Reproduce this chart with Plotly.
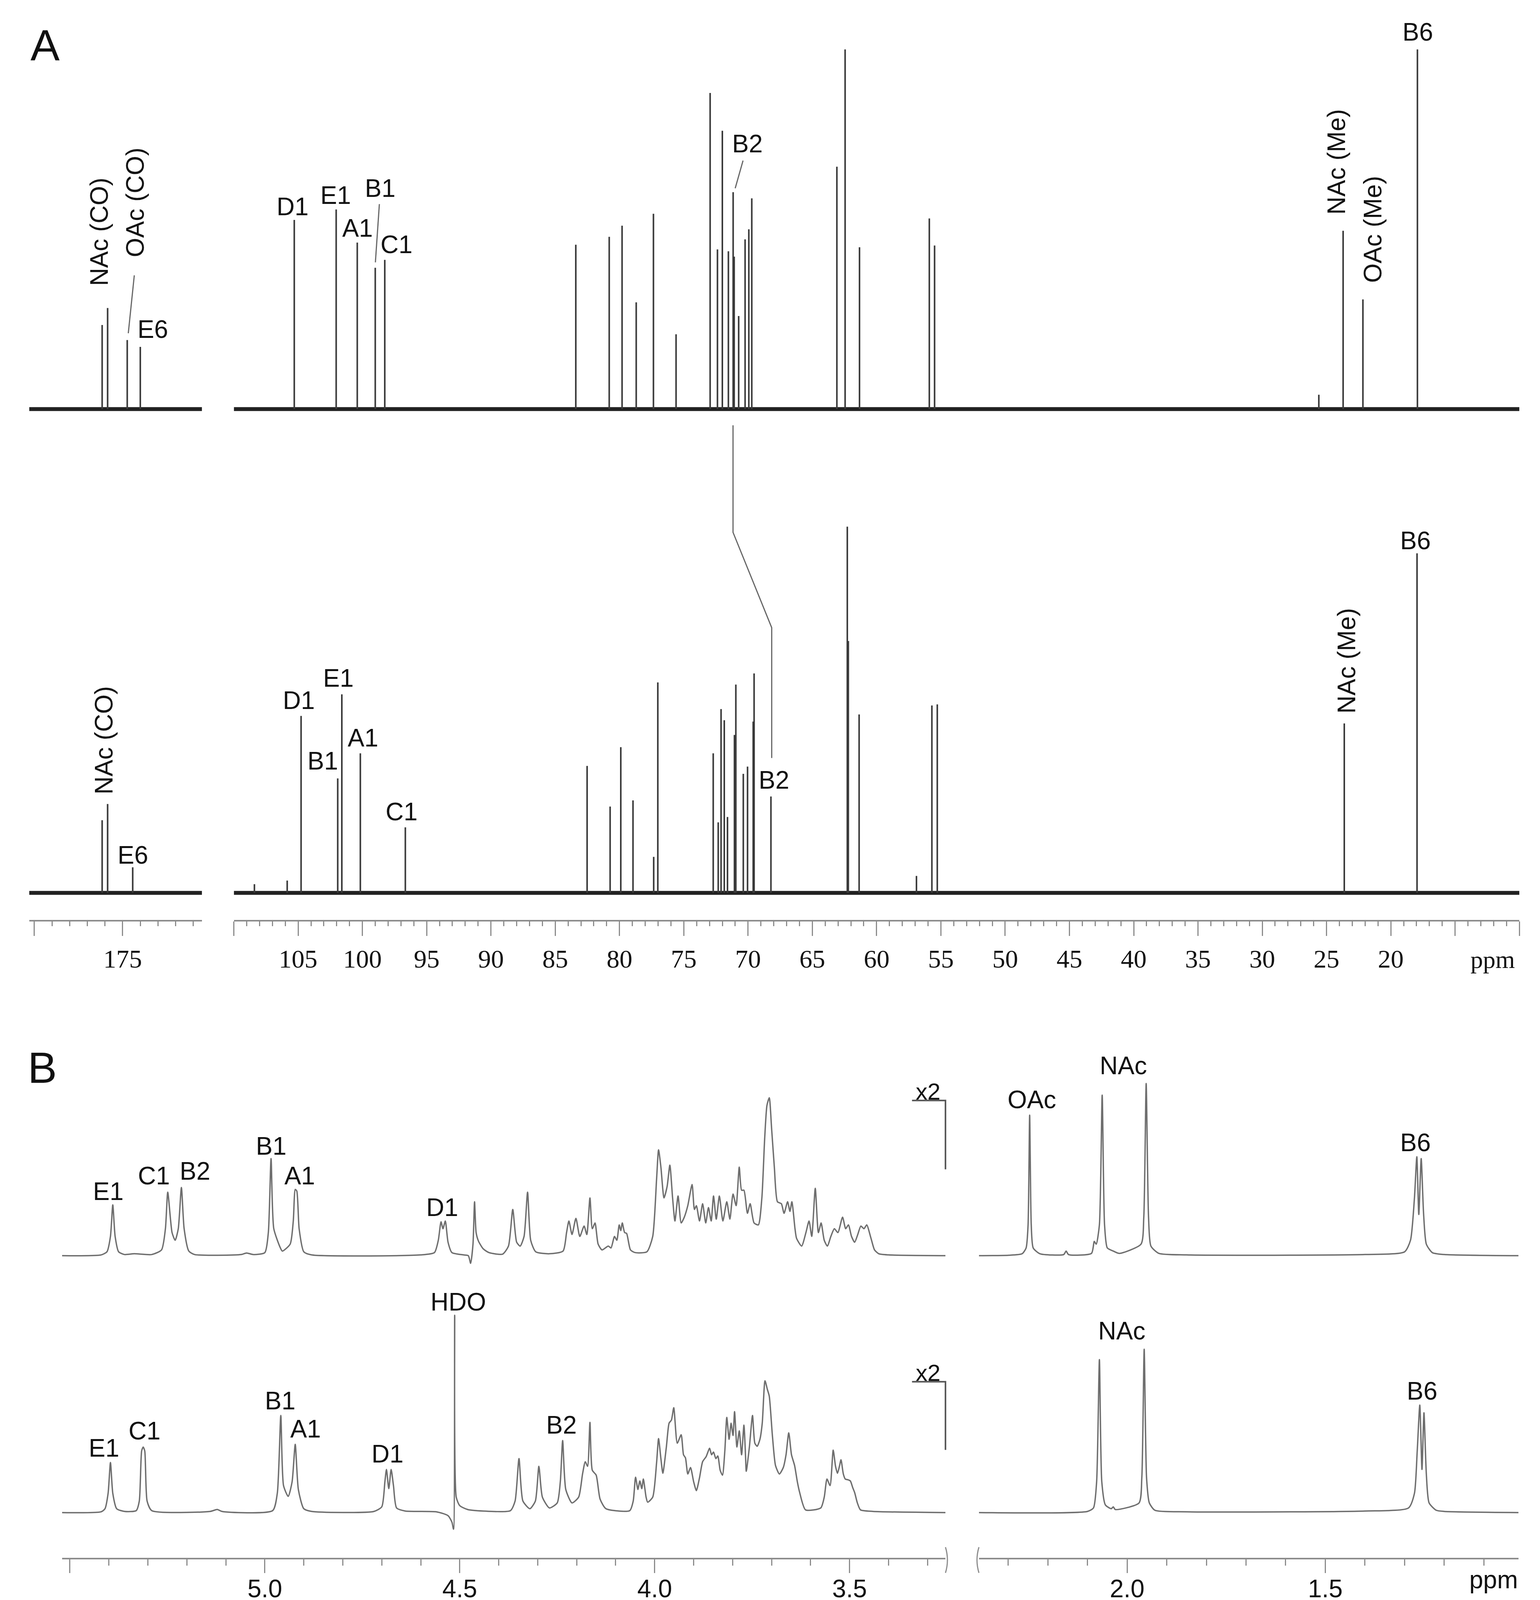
import plotly.graph_objects as go

# reference picture size (all positions below are read in these pixels)
W, H = 3942, 4152
# figure drawn a little smaller so that the page never needs scrollbars
FIG_W, FIG_H = 3926, 4136

# ---- 13C spectra: peak positions (ppm) and relative heights ----
C13_TOP_PPM = [176.16, 175.85, 174.74, 174.00,
               105.30, 102.04, 100.40, 99.00, 98.26,
               83.40, 80.80, 79.80, 78.70, 77.36, 75.60,
               72.95, 72.38, 72.00, 71.53, 71.16, 71.08, 70.73, 70.23, 69.94, 69.71,
               63.09, 62.45, 61.33, 55.90, 55.49,
               25.60, 23.71, 22.17, 17.93]
C13_TOP_INT = [23.4, 28.1, 19.2, 17.3,
               52.6, 55.5, 46.3, 39.3, 41.5,
               45.7, 47.9, 51.0, 29.7, 54.3, 20.8,
               87.9, 44.4, 77.4, 43.9, 60.3, 42.4, 25.9, 47.2, 50.0, 58.6,
               67.4, 100.0, 45.0, 53.0, 45.5,
               4.0, 49.6, 30.5, 100.0]

C13_BOT_PPM = [176.16, 175.85, 174.43,
               108.40, 105.85, 104.77, 101.92, 101.60, 100.16, 96.66,
               82.52, 80.73, 79.90, 78.95, 77.34, 77.02,
               72.71, 72.32, 72.10, 71.85, 71.60, 71.06, 70.95, 70.37, 70.04, 69.60, 69.53, 68.22,
               62.28, 62.20, 61.36, 56.90, 55.70, 55.28,
               23.62, 17.96]
C13_BOT_INT = [20.2, 24.7, 7.1,
               2.4, 3.4, 49.2, 31.8, 55.2, 38.8, 18.2,
               35.3, 24.0, 40.5, 25.7, 10.0, 58.5,
               38.8, 19.6, 51.1, 48.0, 21.1, 43.9, 57.9, 33.1, 35.1, 47.6, 61.0, 26.8,
               101.8, 70.0, 49.6, 4.7, 52.1, 52.4,
               47.1, 94.4]

# ---- 1H spectra: trace vertices (ppm, intensity) ----
H1_TOP = [
    (5.52, 0), (5.42, 2), (5.405, 10), (5.396, 50), (5.390, 132), (5.384, 50), (5.375, 10),
    (5.36, 3), (5.335, 5), (5.29, 3), (5.265, 15), (5.255, 70), (5.249, 165), (5.238, 60),
    (5.230, 40), (5.222, 70), (5.214, 177), (5.207, 70), (5.195, 12), (5.18, 3), (5.06, 3),
    (5.047, 7), (5.03, 3), (5.00, 8), (4.991, 60), (4.984, 252), (4.977, 70), (4.960, 20),
    (4.955, 12), (4.935, 30), (4.927, 90), (4.922, 172), (4.918, 168), (4.912, 70), (4.900, 10),
    (4.88, 2), (4.60, 2), (4.565, 8), (4.555, 40), (4.548, 88), (4.543, 70), (4.537, 90),
    (4.530, 35), (4.52, 8), (4.49, 2), (4.478, 0), (4.472, -20), (4.466, 30), (4.462, 140),
    (4.458, 60), (4.452, 38), (4.44, 18), (4.425, 8), (4.39, 4), (4.375, 25), (4.364, 120),
    (4.354, 35), (4.345, 25), (4.335, 50), (4.326, 165), (4.318, 40), (4.305, 10), (4.27, 5),
    (4.235, 12), (4.226, 60), (4.220, 90), (4.212, 55), (4.202, 97), (4.192, 50), (4.181, 77),
    (4.174, 55), (4.166, 150), (4.160, 70), (4.153, 85), (4.145, 30), (4.135, 15), (4.119, 25),
    (4.112, 20), (4.103, 50), (4.097, 40), (4.091, 80), (4.087, 65), (4.083, 85), (4.077, 60),
    (4.072, 58), (4.062, 15), (4.05, 8), (4.02, 10), (4.005, 50), (3.995, 200), (3.990, 275),
    (3.984, 230), (3.976, 150), (3.968, 180), (3.961, 235), (3.954, 150), (3.948, 90),
    (3.940, 155), (3.932, 85), (3.924, 100), (3.915, 130), (3.904, 185), (3.898, 120),
    (3.893, 130), (3.885, 90), (3.877, 135), (3.869, 85), (3.862, 125), (3.855, 90),
    (3.849, 155), (3.842, 95), (3.834, 155), (3.825, 90), (3.815, 140), (3.807, 95),
    (3.799, 160), (3.791, 130), (3.783, 230), (3.777, 170), (3.771, 170), (3.762, 110),
    (3.755, 135), (3.745, 85), (3.734, 80), (3.725, 150), (3.718, 300), (3.712, 390),
    (3.706, 410), (3.700, 330), (3.693, 230), (3.685, 140), (3.675, 135), (3.668, 110),
    (3.659, 140), (3.653, 115), (3.648, 140), (3.640, 70), (3.636, 45), (3.623, 25),
    (3.612, 60), (3.604, 90), (3.597, 50), (3.588, 175), (3.580, 60), (3.573, 85),
    (3.565, 40), (3.557, 25), (3.548, 50), (3.539, 70), (3.530, 60), (3.518, 100),
    (3.510, 70), (3.503, 80), (3.495, 50), (3.487, 35), (3.479, 55), (3.471, 77),
    (3.463, 70), (3.456, 80), (3.445, 45), (3.436, 15), (3.425, 5), (3.40, 2), (3.254, 0),
    (2.374, 0), (2.30, 1), (2.265, 5), (2.255, 20), (2.250, 80), (2.246, 365), (2.242, 80),
    (2.237, 20), (2.22, 5), (2.16, 3), (2.154, 12), (2.148, 3), (2.09, 6), (2.083, 37),
    (2.078, 30), (2.070, 80), (2.063, 417), (2.057, 80), (2.050, 20), (2.035, 12), (2.02, 6),
    (1.965, 30), (1.958, 100), (1.952, 447), (1.946, 100), (1.940, 25), (1.92, 6), (1.85, 2),
    (1.40, 3), (1.30, 10), (1.285, 40), (1.275, 150), (1.269, 257), (1.264, 107),
    (1.258, 252), (1.252, 110), (1.245, 30), (1.23, 8), (1.20, 3), (1.0125, 0),
]

H1_BOT = [
    (5.52, 0), (5.42, 2), (5.41, 10), (5.402, 50), (5.396, 130), (5.390, 50), (5.38, 10),
    (5.36, 3), (5.33, 5), (5.322, 30), (5.316, 160), (5.312, 170), (5.308, 160), (5.302, 30),
    (5.29, 5), (5.14, 3), (5.122, 8), (5.11, 3), (4.98, 5), (4.968, 50), (4.959, 252),
    (4.952, 70), (4.940, 42), (4.930, 80), (4.922, 177), (4.914, 60), (4.90, 10), (4.88, 3),
    (4.72, 3), (4.70, 15), (4.692, 80), (4.688, 112), (4.682, 62), (4.676, 112), (4.670, 70),
    (4.662, 12), (4.64, 4), (4.56, 2), (4.53, -8), (4.520, -25), (4.516, -43), (4.513, 512),
    (4.509, 40), (4.50, 18), (4.48, 8), (4.44, 4), (4.37, 5), (4.358, 30), (4.348, 140),
    (4.338, 30), (4.32, 10), (4.306, 30), (4.297, 120), (4.288, 40), (4.27, 12), (4.25, 25),
    (4.242, 80), (4.236, 187), (4.228, 60), (4.212, 25), (4.195, 40), (4.185, 100),
    (4.178, 132), (4.172, 120), (4.166, 234), (4.160, 110), (4.150, 97), (4.140, 35),
    (4.125, 10), (4.064, 5), (4.055, 30), (4.049, 92), (4.043, 60), (4.038, 82), (4.033, 62),
    (4.029, 87), (4.022, 40), (4.018, 27), (4.005, 40), (3.995, 130), (3.990, 192),
    (3.984, 140), (3.979, 102), (3.970, 170), (3.963, 232), (3.957, 240), (3.951, 272),
    (3.942, 180), (3.932, 202), (3.926, 150), (3.921, 142), (3.915, 100), (3.908, 117),
    (3.900, 80), (3.893, 57), (3.885, 90), (3.877, 132), (3.868, 145), (3.859, 167),
    (3.854, 150), (3.849, 157), (3.843, 140), (3.838, 147), (3.832, 110), (3.826, 97),
    (3.820, 160), (3.815, 247), (3.809, 190), (3.804, 232), (3.799, 200), (3.795, 262),
    (3.789, 170), (3.783, 212), (3.777, 150), (3.771, 227), (3.767, 150), (3.765, 107),
    (3.757, 170), (3.749, 252), (3.743, 180), (3.737, 172), (3.730, 190), (3.724, 232),
    (3.717, 342), (3.711, 320), (3.706, 302), (3.698, 200), (3.690, 122), (3.680, 100),
    (3.670, 117), (3.663, 150), (3.656, 207), (3.649, 150), (3.641, 122), (3.634, 80),
    (3.628, 52), (3.613, 7), (3.574, 12), (3.565, 40), (3.558, 87), (3.550, 70),
    (3.542, 162), (3.536, 120), (3.531, 102), (3.526, 120), (3.522, 137), (3.516, 100),
    (3.511, 87), (3.504, 85), (3.498, 82), (3.492, 65), (3.487, 52), (3.480, 25),
    (3.472, 7), (3.44, 3), (3.254, 0),
    (2.374, 0), (2.10, 3), (2.085, 12), (2.077, 80), (2.070, 397), (2.064, 80), (2.055, 20),
    (2.04, 10), (2.035, 15), (2.03, 8), (1.97, 25), (1.963, 90), (1.957, 424), (1.951, 90),
    (1.944, 25), (1.93, 6), (1.85, 2), (1.40, 4), (1.29, 12), (1.275, 50), (1.268, 160),
    (1.2615, 279), (1.256, 112), (1.251, 259), (1.245, 100), (1.238, 25), (1.22, 6),
    (1.20, 3), (1.0125, 0),
]

# ---- labels (text, ppm, intensity, angle) ----
A_TOP_LEFT_LABELS = [("NAc (CO)", 176.31, 49.3, -90), ("OAc (CO)", 174.30, 57.5, -90),
                     ("E6", 173.29, 22.2, 0)]
A_TOP_MAIN_LABELS = [("D1", 105.43, 56.3, 0), ("E1", 102.09, 59.4, 0), ("B1", 98.62, 61.4, 0),
                     ("A1", 100.38, 50.3, 0), ("C1", 97.35, 45.8, 0), ("B2", 70.05, 73.8, 0),
                     ("NAc (Me)", 24.24, 68.7, -90), ("OAc (Me)", 21.40, 50.0, -90),
                     ("B6", 17.90, 104.8, 0)]
A_BOT_LEFT_LABELS = [("NAc (CO)", 176.05, 42.4, -90), ("E6", 174.43, 10.5, 0)]
A_BOT_MAIN_LABELS = [("D1", 104.93, 53.5, 0), ("E1", 101.86, 59.7, 0), ("B1", 103.10, 36.7, 0),
                     ("A1", 99.95, 43.1, 0), ("C1", 96.94, 22.5, 0), ("B2", 67.98, 31.4, 0),
                     ("NAc (Me)", 23.44, 64.5, -90), ("B6", 18.10, 97.9, 0)]
B_TOP_LABELS = [("E1", 5.402, 167), ("C1", 5.284, 207), ("B2", 5.179, 220), ("B1", 4.984, 285),
                ("A1", 4.911, 207), ("D1", 4.545, 125),
                ("OAc", 2.241, 405), ("NAc", 2.0096, 494), ("B6", 1.273, 294)]
B_BOT_LABELS = [("E1", 5.413, 167), ("C1", 5.309, 212), ("B1", 4.961, 290), ("A1", 4.896, 217),
                ("D1", 4.685, 152), ("HDO", 4.504, 547), ("B2", 4.239, 227),
                ("NAc", 2.0134, 472), ("B6", 1.256, 315)]

# axis ranges of the segments
A_LEFT = [180.29, 170.51]
A_MAIN = [110.0, 10.0]
B_LEFT = [5.52, 3.254]
B_RIGHT = [2.374, 1.0125]

A_MAIN_TICKS = list(range(110, 5, -5))
A_MAIN_TEXT = ["" if t in (110, 15, 10) else str(t) for t in A_MAIN_TICKS]


def px(x):
    return x / W


def py(y):
    return 1 - y / H


def sticks(ppm, inten, rng):
    lo, hi = min(rng), max(rng)
    xs, ys = [], []
    for p, v in zip(ppm, inten):
        if lo <= p <= hi:
            xs += [p, p, None]
            ys += [0, v, None]
    return xs, ys


def trace_part(pts, rng):
    lo, hi = min(rng), max(rng)
    sel = [(p, v) for p, v in pts if lo <= p <= hi]
    return [p for p, _ in sel], [v for _, v in sel]


fig = go.Figure()

STICK = dict(color="#3a3a3a", width=4)
NOISE = dict(color="#222222", width=10)
HLINE = dict(color="#6e6e6e", width=3.5, shape="spline", smoothing=0.6)

# panel A, 13C
for ppm, inten, ax_left, ax_main, ya in [
        (C13_TOP_PPM, C13_TOP_INT, "x", "x2", "y"),
        (C13_BOT_PPM, C13_BOT_INT, "x3", "x4", "y2")]:
    for rng, xa in [(A_LEFT, ax_left), (A_MAIN, ax_main)]:
        fig.add_trace(go.Scatter(x=rng, y=[0, 0], mode="lines", line=NOISE,
                                 xaxis=xa, yaxis=ya, hoverinfo="skip"))
        xs, ys = sticks(ppm, inten, rng)
        fig.add_trace(go.Scatter(x=xs, y=ys, mode="lines", line=STICK,
                                 xaxis=xa, yaxis=ya, hoverinfo="skip"))

# panel B, 1H
for pts, ax_left, ax_right, ya in [(H1_TOP, "x5", "x6", "y3"), (H1_BOT, "x7", "x8", "y4")]:
    for rng, xa in [(B_LEFT, ax_left), (B_RIGHT, ax_right)]:
        xs, ys = trace_part(pts, rng)
        fig.add_trace(go.Scatter(x=xs, y=ys, mode="lines", line=HLINE,
                                 xaxis=xa, yaxis=ya, hoverinfo="skip"))

LBL = dict(family="Liberation Sans, Arial, sans-serif", size=64, color="#111111")


def add_labels(labels, xref, yref):
    for item in labels:
        text, x, y = item[0], item[1], item[2]
        ang = item[3] if len(item) > 3 else 0
        fig.add_annotation(text=text, x=x, y=y, xref=xref, yref=yref, showarrow=False,
                           textangle=ang, font=LBL, xanchor="center", yanchor="middle")


add_labels(A_TOP_LEFT_LABELS, "x", "y")
add_labels(A_TOP_MAIN_LABELS, "x2", "y")
add_labels(A_BOT_LEFT_LABELS, "x3", "y2")
add_labels(A_BOT_MAIN_LABELS, "x4", "y2")
add_labels([l for l in B_TOP_LABELS if l[1] > 3], "x5", "y3")
add_labels([l for l in B_TOP_LABELS if l[1] < 3], "x6", "y3")
add_labels([l for l in B_BOT_LABELS if l[1] > 3], "x7", "y4")
add_labels([l for l in B_BOT_LABELS if l[1] < 3], "x8", "y4")

PTR = dict(color="#666666", width=3)
fig.add_shape(type="line", xref="x", yref="y", x0=174.34, y0=37.2, x1=174.68, y1=21.1, line=PTR)
fig.add_shape(type="line", xref="x2", yref="y", x0=98.68, y0=57.0, x1=98.99, y1=40.8, line=PTR)
fig.add_shape(type="line", xref="x2", yref="y", x0=70.39, y0=69.1, x1=71.0, y1=61.4, line=PTR)
# B2 correlation between the two 13C spectra
fig.add_shape(type="path", xref="x2", yref="paper", line=PTR,
              path=f"M 71.17 {py(1085)} L 71.17 {py(1360)} L 68.16 {py(1605)} L 68.16 {py(1940)}")

# x2 brackets
for ty, ly, ey in [(2797, 2820, 2997), (3520, 3543, 3718)]:
    fig.add_shape(type="path", xref="paper", yref="paper", line=dict(color="#555555", width=4),
                  path=f"M {px(2336)} {py(ly)} L {px(2422)} {py(ly)} L {px(2422)} {py(ey)}")
    fig.add_annotation(text="x2", x=px(2377), y=py(ty), xref="paper", yref="paper",
                       showarrow=False, font=dict(LBL, size=60), xanchor="center",
                       yanchor="middle")

# axis break marks on the 1H scale
for x0, bend in [(2422, 10), (2508, -10)]:
    fig.add_shape(type="path", xref="paper", yref="paper", line=dict(color="#8c8c8c", width=3),
                  path=f"M {px(x0)} {py(3968)} Q {px(x0 + bend)} {py(4001)} {px(x0)} {py(4034)}")

# panel letters and ppm
for t, x, y in [("A", 108, 108), ("B", 101, 2736)]:
    fig.add_annotation(text=t, x=px(x), y=py(y), xref="paper", yref="paper", showarrow=False,
                       font=dict(family="Liberation Sans, Arial", size=112, color="#111"),
                       xanchor="center", yanchor="middle")
fig.add_annotation(text="ppm", x=12.07, y=py(2458), xref="x4", yref="paper", showarrow=False,
                   font=dict(family="Liberation Serif, Times New Roman", size=64, color="#111"),
                   xanchor="center", yanchor="middle")
fig.add_annotation(text="ppm", x=1.075, y=py(4052), xref="x8", yref="paper", showarrow=False,
                   font=dict(family="Liberation Sans, Arial", size=64, color="#111"),
                   xanchor="center", yanchor="middle")

AX = dict(showgrid=False, zeroline=False, autorange=False)
HIDDEN = dict(AX, visible=False)
SERIF = dict(family="Liberation Serif, Times New Roman, serif", size=66, color="#111")
SANS = dict(family="Liberation Sans, Arial, sans-serif", size=64, color="#111")
AXLINE = dict(showline=True, linecolor="#8c8c8c", linewidth=4, ticks="outside",
              tickcolor="#8c8c8c", tickwidth=3)

dA_left = [px(67), px(511)]
dA_main = [px(593), px(3897)]
dB_left = [px(151.6), px(2422)]
dB_right = [px(2508), px(3894.7)]

fig.update_layout(
    width=FIG_W, height=FIG_H, margin=dict(l=0, r=0, t=0, b=0),
    paper_bgcolor="white", plot_bgcolor="rgba(0,0,0,0)", showlegend=False,
    xaxis=dict(HIDDEN, domain=dA_left, range=A_LEFT, anchor="y"),
    xaxis2=dict(HIDDEN, domain=dA_main, range=A_MAIN, anchor="y"),
    xaxis3=dict(AX, **AXLINE, domain=dA_left, range=A_LEFT, anchor="y2",
                tickmode="array", tickvals=[180, 175], ticktext=["", "175"], ticklen=37,
                tickfont=SERIF, ticklabelstandoff=2,
                minor=dict(tickmode="linear", tick0=0, dtick=1, ticklen=12, ticks="outside",
                           tickcolor="#8c8c8c", tickwidth=3)),
    xaxis4=dict(AX, **AXLINE, domain=dA_main, range=A_MAIN, anchor="y2",
                tickmode="array", tickvals=A_MAIN_TICKS, ticktext=A_MAIN_TEXT, ticklen=37,
                tickfont=SERIF, ticklabelstandoff=2,
                minor=dict(tickmode="linear", tick0=0, dtick=1, ticklen=12, ticks="outside",
                           tickcolor="#8c8c8c", tickwidth=3)),
    xaxis5=dict(HIDDEN, domain=dB_left, range=B_LEFT, anchor="y3"),
    xaxis6=dict(HIDDEN, domain=dB_right, range=B_RIGHT, anchor="y3"),
    xaxis7=dict(AX, **AXLINE, domain=dB_left, range=B_LEFT, anchor="y4",
                tickmode="array", tickvals=[5.5, 5.0, 4.5, 4.0, 3.5],
                ticktext=["", "5.0", "4.5", "4.0", "3.5"], ticklen=35,
                tickfont=SANS, ticklabelstandoff=-14,
                minor=dict(tickmode="linear", tick0=0, dtick=0.1, ticklen=16, ticks="outside",
                           tickcolor="#8c8c8c", tickwidth=3)),
    xaxis8=dict(AX, **AXLINE, domain=dB_right, range=B_RIGHT, anchor="y4",
                tickmode="array", tickvals=[2.0, 1.5], ticktext=["2.0", "1.5"], ticklen=35,
                tickfont=SANS, ticklabelstandoff=-14,
                minor=dict(tickmode="linear", tick0=0, dtick=0.1, ticklen=16, ticks="outside",
                           tickcolor="#8c8c8c", tickwidth=3)),
    yaxis=dict(HIDDEN, domain=[py(1089.6), py(8.1)], range=[-5, 112], anchor="x"),
    yaxis2=dict(HIDDEN, domain=[py(2355.8), py(1251.2)], range=[-7.5, 112], anchor="x3"),
    yaxis3=dict(HIDDEN, domain=[py(3243.7), py(2704.3)], range=[-25, 520], anchor="x5"),
    yaxis4=dict(HIDDEN, domain=[py(3995), py(3304.7)], range=[-117, 580], anchor="x7"),
)

fig.write_html("out.html")
